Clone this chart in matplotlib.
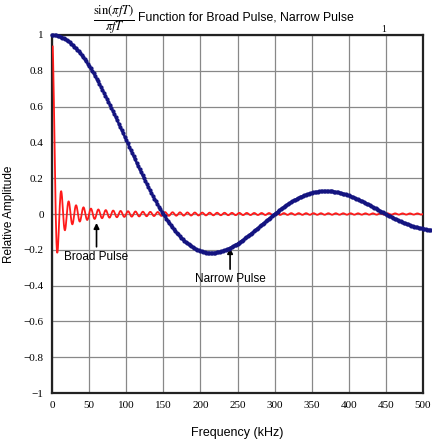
import numpy as np
import matplotlib.pyplot as plt

# sin(pi f T)/(pi f T) spectra, zero spacing (kHz)
narrow_first_zero = 150.0
broad_first_zero = 5.0
narrow_freq = np.arange(0, 513, 2.0)
broad_freq = np.arange(1, 500.5, 0.5)

x_ticks = [0, 50, 100, 150, 200, 250, 300, 350, 400, 450, 500]
y_ticks = [-1, -0.8, -0.6, -0.4, -0.2, 0, 0.2, 0.4, 0.6, 0.8, 1]
y_tick_labels = ["\u22121", "\u22120.8", "\u22120.6", "\u22120.4", "\u22120.2", "0",
                 "0.2", "0.4", "0.6", "0.8", "1"]

narrow_amp = np.sinc(narrow_freq / narrow_first_zero)
broad_amp = np.sinc(broad_freq / broad_first_zero)

plt.rcParams["mathtext.fontset"] = "stix"

fig = plt.figure(figsize=(4.32, 4.40), dpi=100)
ax = fig.add_axes([52 / 432, 1 - 393 / 440, 371 / 432, 358 / 440])

ax.plot(broad_freq, broad_amp, color="#ff1a1a", lw=1.3, zorder=3)
ax.plot(narrow_freq, narrow_amp, color="#141480", lw=1.7, marker="o", ms=2.0,
        zorder=4, clip_on=False)

ax.set_xlim(0, 500)
ax.set_ylim(-1, 1)
ax.set_xticks(x_ticks)
ax.set_yticks(y_ticks)
ax.set_xticklabels([str(t) for t in x_ticks], family="Liberation Serif", fontsize=8)
ax.set_yticklabels(y_tick_labels, family="Liberation Serif", fontsize=8)
ax.tick_params(length=0, pad=6)
ax.grid(True, color="#888888", lw=0.9)
ax.set_axisbelow(True)
for s in ax.spines.values():
    s.set_linewidth(1.6)
    s.set_color("#222222")

ax.set_xlabel("Frequency (kHz)", family="Liberation Sans", fontsize=9, labelpad=12)
ax.set_ylabel("Relative Amplitude", family="Liberation Sans", fontsize=8.5, labelpad=6)

# title with the fraction
fig.text(114 / 432, 1 - 20 / 440, r"$\frac{\mathrm{sin}(\pi fT)}{\pi fT}$",
         fontsize=13, ha="center", va="center")
fig.text(138 / 432, 1 - 17 / 440, "Function for Broad Pulse, Narrow Pulse",
         family="Liberation Sans", fontsize=8.8, ha="left", va="center")
fig.text(384 / 432, 1 - 29 / 440, "1", family="Liberation Serif", fontsize=7,
         ha="center", va="center")

ax.annotate("Broad Pulse", xy=(60, -0.05), xytext=(60, -0.24),
            ha="center", va="center", family="Liberation Sans", fontsize=8.5,
            arrowprops=dict(arrowstyle="-|>", color="black", lw=1.2,
                            shrinkA=1, shrinkB=0, mutation_scale=8))
ax.annotate("Narrow Pulse", xy=(240, -0.19), xytext=(240, -0.365),
            ha="center", va="center", family="Liberation Sans", fontsize=8.5,
            arrowprops=dict(arrowstyle="-|>", color="black", lw=1.2,
                            shrinkA=1, shrinkB=0, mutation_scale=8))

fig.savefig("out.png", dpi=100)
